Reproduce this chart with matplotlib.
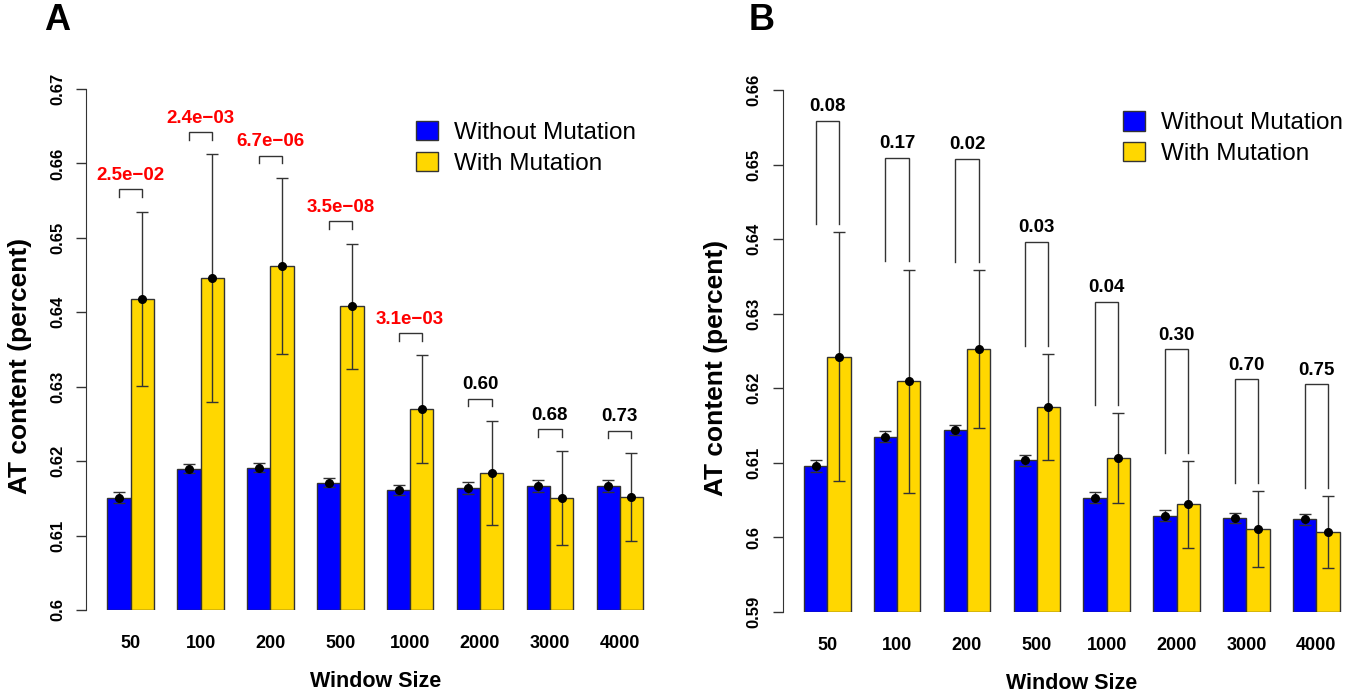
import numpy as np
import matplotlib
matplotlib.use('Agg')
import matplotlib.pyplot as plt
from matplotlib.patches import Patch

plt.rcParams['font.family'] = ['Liberation Sans', 'DejaVu Sans']

# window sizes (x categories)
windows = ['50', '100', '200', '500', '1000', '2000', '3000', '4000']

# panel A
a_without = [0.6151, 0.6190, 0.6191, 0.6171, 0.6161, 0.6164, 0.6166, 0.6166]
a_without_err = [0.0007, 0.0006, 0.0006, 0.0006, 0.0007, 0.0008, 0.0008, 0.0008]
a_with = [0.6418, 0.6446, 0.6462, 0.6408, 0.6270, 0.6184, 0.6150, 0.6152]
a_with_err = [0.0117, 0.0166, 0.0118, 0.0084, 0.0072, 0.0070, 0.0063, 0.0059]
a_pvals = ['2.5e\u221202', '2.4e\u221203', '6.7e\u221206', '3.5e\u221208', '3.1e\u221203', '0.60', '0.68', '0.73']
a_ticks = [0.6, 0.61, 0.62, 0.63, 0.64, 0.65, 0.66, 0.67]
a_ticklabels = ['0.6', '0.61', '0.62', '0.63', '0.64', '0.65', '0.66', '0.67']

# panel B
b_without = [0.6096, 0.6135, 0.6144, 0.6103, 0.6053, 0.6029, 0.6026, 0.6024]
b_without_err = [0.0008, 0.0007, 0.0007, 0.0007, 0.0007, 0.0007, 0.0007, 0.0007]
b_with = [0.6242, 0.6209, 0.6252, 0.6175, 0.6106, 0.6044, 0.6011, 0.6007]
b_with_err = [0.0167, 0.0150, 0.0106, 0.0071, 0.0060, 0.0058, 0.0051, 0.0048]
b_pvals = ['0.08', '0.17', '0.02', '0.03', '0.04', '0.30', '0.70', '0.75']
b_ticks = [0.59, 0.6, 0.61, 0.62, 0.63, 0.64, 0.65, 0.66]
b_ticklabels = ['0.59', '0.6', '0.61', '0.62', '0.63', '0.64', '0.65', '0.66']

BLUE = '#0000FF'
GOLD = '#FFD700'
EDGE = '#333333'


def draw_panel(ax, without, without_err, with_, with_err, pvals, pcolors,
               ticks, ticklabels, top_gap, leg_gap, legend_anchor):
    ylo, yhi = ticks[0], ticks[-1]
    grp = np.arange(len(windows)) * 3 + 2
    x_wo = grp - 0.5
    x_w = grp + 0.5
    without = np.array(without)
    with_ = np.array(with_)

    ax.bar(x_wo, without - ylo, bottom=ylo, width=1, color=BLUE, edgecolor=EDGE, lw=1, zorder=2)
    ax.bar(x_w, with_ - ylo, bottom=ylo, width=1, color=GOLD, edgecolor=EDGE, lw=1, zorder=2)
    for x, y, e in [(x_wo, without, without_err), (x_w, with_, with_err)]:
        ax.errorbar(x, y, yerr=e, fmt='o', color='black', ms=5.5, ecolor=EDGE,
                    elinewidth=1, capsize=4, capthick=1, zorder=3)

    # p-value brackets
    errtop = np.maximum(without + np.array(without_err), with_ + np.array(with_err))
    for i in range(len(windows)):
        top = errtop[i] + top_gap
        bot = errtop[i] + leg_gap
        ax.plot([x_wo[i], x_wo[i], x_w[i], x_w[i]], [bot, top, top, bot],
                color=EDGE, lw=1, zorder=3, solid_joinstyle='miter')
        ax.annotate(pvals[i], (grp[i], top), xytext=(0, 4), textcoords='offset points',
                    ha='center', va='bottom', fontsize=13.5, fontweight='bold',
                    color=pcolors[i])

    ax.set_xlim(0.08, 24.92)
    ax.set_ylim(ylo, yhi)
    ax.set_xticks(grp)
    ax.set_xticklabels(windows, fontsize=13, fontweight='bold')
    ax.tick_params(axis='x', length=0, pad=18)
    ax.set_yticks(ticks)
    ax.set_yticklabels(ticklabels, fontsize=12, fontweight='bold', rotation=90, va='center')
    ax.tick_params(axis='y', direction='out', length=7, width=1, color=EDGE, pad=8)
    for s in ['top', 'right', 'bottom']:
        ax.spines[s].set_visible(False)
    ax.spines['left'].set_color(EDGE)
    ax.spines['left'].set_bounds(ylo, yhi)

    ax.set_xlabel('Window Size', fontsize=15.5, fontweight='bold')
    ax.xaxis.set_label_coords(0.5, -0.118)
    ax.set_ylabel('AT content (percent)', fontsize=19, fontweight='bold')
    ax.yaxis.set_label_coords(-0.094, 0.468)

    handles = [Patch(facecolor=BLUE, edgecolor=EDGE, label='Without Mutation'),
               Patch(facecolor=GOLD, edgecolor=EDGE, label='With Mutation')]
    ax.legend(handles=handles, loc='upper left', bbox_to_anchor=legend_anchor,
              bbox_transform=ax.figure.transFigure, frameon=False, fontsize=17.5,
              handlelength=0.9, handleheight=0.85, handletextpad=0.65,
              labelspacing=0.3, borderpad=0, borderaxespad=0)


fig = plt.figure(figsize=(13.69, 6.96), dpi=100)
ax_a = fig.add_axes([0.0628, 0.1236, 0.4226, 0.7486])
ax_b = fig.add_axes([0.5716, 0.1211, 0.4226, 0.7496])

a_colors = ['red'] * 5 + ['black'] * 3
b_colors = ['black'] * 8
draw_panel(ax_a, a_without, a_without_err, a_with, a_with_err, a_pvals, a_colors,
           a_ticks, a_ticklabels, 0.0030, 0.0020, (0.304, 0.826))
draw_panel(ax_b, b_without, b_without_err, b_with, b_with_err, b_pvals, b_colors,
           b_ticks, b_ticklabels, 0.0150, 0.0011, (0.8205, 0.840))

fig.text(57 / 1369, 1 - 20 / 696, 'A', fontsize=26, fontweight='bold', ha='center', va='center')
fig.text(762 / 1369, 1 - 20 / 696, 'B', fontsize=26, fontweight='bold', ha='center', va='center')

fig.savefig('out.png', dpi=100)
